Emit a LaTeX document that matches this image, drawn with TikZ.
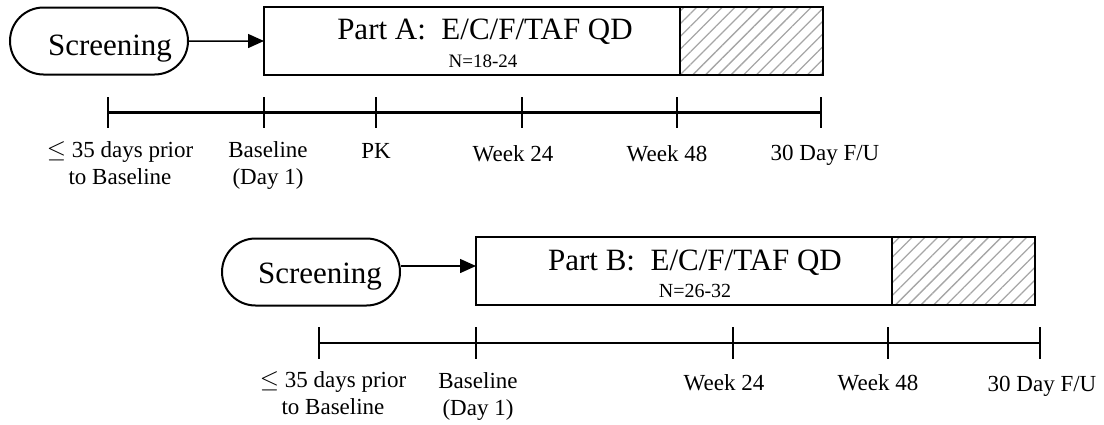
\documentclass[tikz,border=0pt]{standalone}
\usepackage{fontspec}
\setmainfont{Liberation Serif}
\usetikzlibrary{arrows.meta,patterns.meta,shapes.misc}

\tikzset{
    scrbox/.style={draw, line width=2pt, rounded rectangle, minimum width=178pt, minimum height=67pt, inner sep=0pt},
    armbox/.style={draw, line width=2pt, minimum height=68pt, inner sep=0pt, outer sep=0pt, anchor=west},
    hatchbox/.style={armbox, pattern={Lines[angle=45, distance=9pt, line width=1.3pt]}, pattern color=gray!70},
    tick/.style={line width=2.5pt},
    lbl/.style={anchor=north, inner sep=0pt, align=center, font=\fontsize{23}{27}\selectfont}
}

\begin{document}
\begin{tikzpicture}[x=1pt, y=-1pt]
    \useasboundingbox (0,0) rectangle (1104,424);

    % Part A: boxes
    \node[scrbox] (scrA) at (99,41) {};
    \node[anchor=base, inner sep=0pt, font=\fontsize{31}{31}\selectfont] (scrAtxt) at (110,55) {Screening};
    \node[armbox, minimum width=416pt] (partA) at (264,41) {};
    \node[hatchbox, minimum width=143pt] (hatchA) at (partA.east) {};
    \node[anchor=base, inner sep=0pt, font=\fontsize{31}{31}\selectfont] (armA) at (485,39) {Part A:\ \ E/C/F/TAF QD};
    \node[anchor=base, inner sep=0pt, font=\fontsize{19}{19}\selectfont] (nA) at (483,67) {N=18-24};
    \draw[-{Triangle[length=16pt, width=14pt]}, line width=1.5pt] (scrA) -- (partA);

    % Part A: timeline
    \foreach \i/\x in {1/108, 2/264, 3/376, 4/522, 5/677, 6/821} {
        \coordinate (tA\i) at (\x,112);
        \draw[tick] (\x,97) -- (\x,128);
    }
    \draw[line width=3pt] (tA1) -- (tA6);
    \foreach \i/\x/\y/\txt in {1/120/141/{$\leq$ 35 days prior\\to Baseline}, 2/268/141/{Baseline\\(Day 1)}, 3/376/143/PK, 4/513/145/Week 24, 5/667/145/Week 48, 6/825/145/{30 Day F/U}} {
        \node[lbl] (lA\i) at (\x,\y) {\txt};
    }

    % Part B: boxes
    \node[scrbox] (scrB) at (311,272) {};
    \node[anchor=base, inner sep=0pt, font=\fontsize{31}{31}\selectfont] (scrBtxt) at (320,283) {Screening};
    \node[armbox, minimum width=416pt] (partB) at (476,271) {};
    \node[hatchbox, minimum width=143pt] (hatchB) at (partB.east) {};
    \node[anchor=base, inner sep=0pt, font=\fontsize{31}{31}\selectfont] (armB) at (695,270) {Part B:\ \ E/C/F/TAF QD};
    \node[anchor=base, inner sep=0pt, font=\fontsize{20}{20}\selectfont] (nB) at (695,297) {N=26-32};
    \draw[-{Triangle[length=16pt, width=14pt]}, line width=1.5pt] (scrB.east |- 0,266) -- (partB.west |- 0,266);

    % Part B: timeline
    \foreach \i/\x in {1/319, 2/476, 3/733, 4/888, 5/1040} {
        \coordinate (tB\i) at (\x,343);
        \draw[tick] (\x,327) -- (\x,359);
    }
    \draw[line width=2pt] (tB1) -- (tB5);
    \foreach \i/\x/\y/\txt in {1/333/371/{$\leq$ 35 days prior\\to Baseline}, 2/478/372/{Baseline\\(Day 1)}, 3/724/374/Week 24, 4/878/374/Week 48, 5/1042/376/{30 Day F/U}} {
        \node[lbl] (lB\i) at (\x,\y) {\txt};
    }

\end{tikzpicture}
\end{document}
